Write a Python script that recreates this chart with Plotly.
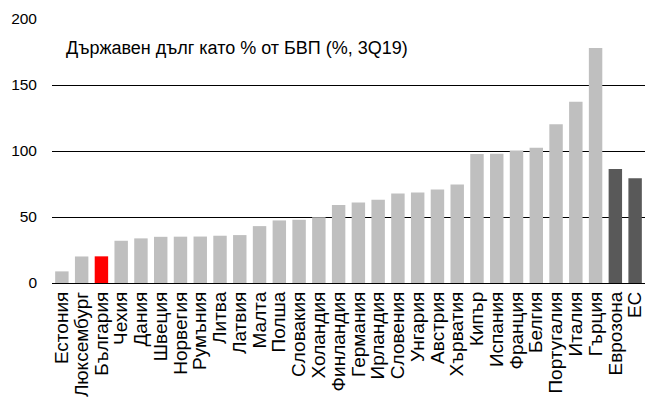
import plotly.graph_objects as go

countries = ["Естония", "Люксембург", "България", "Чехия", "Дания", "Швеция", "Норвегия",
             "Румъния", "Литва", "Латвия", "Малта", "Полша", "Словакия", "Холандия",
             "Финландия", "Германия", "Ирландия", "Словения", "Унгария", "Австрия",
             "Хърватия", "Кипър", "Испания", "Франция", "Белгия", "Португалия",
             "Италия", "Гърция", "Еврозона", "ЕС"]
debt = [8.8, 20.1, 20.2, 32.0, 33.8, 35.0, 35.1, 35.2, 35.8, 36.3, 43.1, 47.4, 47.9, 49.9,
        59.0, 61.0, 63.0, 67.8, 68.5, 70.8, 74.6, 97.8, 97.9, 100.3, 102.4, 120.3,
        137.4, 178.0, 86.3, 79.4]
title_text = "Държавен дълг като % от БВП (%, 3Q19)"

colors = []
for c in countries:
    if c == "България":
        colors.append("#ff0000")
    elif c in ("Еврозона", "ЕС"):
        colors.append("#595959")
    else:
        colors.append("#bfbfbf")

fig = go.Figure(go.Bar(x=countries, y=debt, marker_color=colors, marker_line_width=0))

fig.update_layout(
    width=652, height=399,
    margin=dict(l=52, r=7, t=19, b=116),
    paper_bgcolor="white", plot_bgcolor="white",
    bargap=0.32,
    showlegend=False,
    font=dict(family="Liberation Sans, Arial", size=16, color="#000000"),
    annotations=[dict(text=title_text, xref="paper", yref="paper",
                      x=(64 - 52) / 593, y=1 - (48 - 19) / 264,
                      xanchor="left", yanchor="middle", showarrow=False,
                      font=dict(size=18))],
)
fig.update_xaxes(tickmode="array", tickvals=countries, ticktext=countries,
                 tickangle=-90, showgrid=False, showline=True, linecolor="#000000",
                 linewidth=1.2, ticks="", tickfont=dict(size=19), automargin=False)
fig.update_yaxes(range=[0, 200], dtick=50, showgrid=True, gridcolor="#000000",
                 gridwidth=1.2, zeroline=False, showline=False, ticks="",
                 tickfont=dict(size=15.5), automargin=False, ticklabelstandoff=14)

fig.write_html("out.html")
